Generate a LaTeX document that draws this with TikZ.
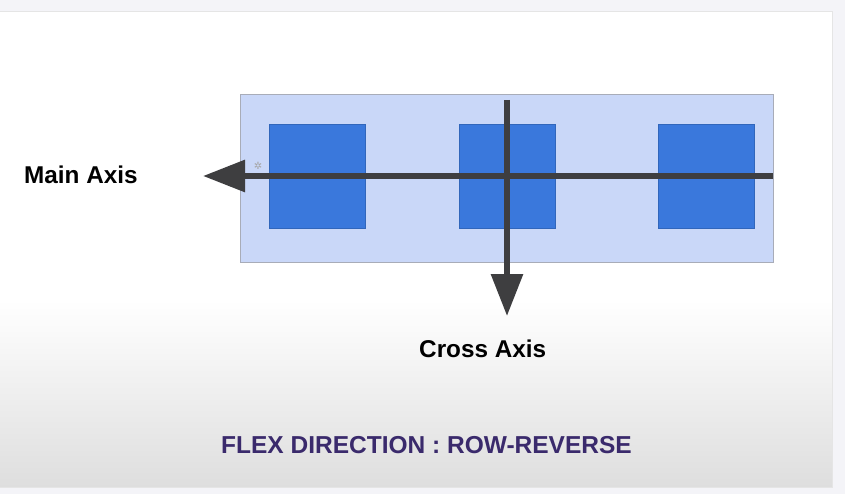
\documentclass[tikz,border=0pt]{standalone}
\usepackage{fontspec}
\setmainfont{Liberation Sans}
\newfontfamily\symfont{DejaVu Sans}
\usetikzlibrary{arrows.meta}
\definecolor{outerbg}{HTML}{F4F4F8}
\definecolor{slidebot}{HTML}{DEDEDE}
\definecolor{contfill}{HTML}{C9D7F8}
\definecolor{contborder}{HTML}{A8ACB8}
\definecolor{itemblue}{HTML}{3A78DC}
\definecolor{axisgray}{HTML}{3E3E40}
\definecolor{titlepurple}{HTML}{3A2A6C}
\tikzset{
  itembox/.style={fill=itemblue, draw=itemblue!85!black, line width=0.5pt, minimum width=96pt, minimum height=104pt, inner sep=0pt},
  axisline/.style={draw=axisgray, line width=6pt, -{Triangle[length=42pt, width=31pt]}},
  lbl/.style={font=\bfseries\fontsize{24.3}{27}\selectfont, inner sep=0pt, anchor=base west},
}
\begin{document}
\begin{tikzpicture}[x=1pt,y=-1pt]
\useasboundingbox (0,0) rectangle (845,494);
% background
\fill[outerbg] (0,0) rectangle (845,494);
\fill[white] (0,12) rectangle (832,300);
\shade[top color=white, bottom color=slidebot] (0,300) rectangle (832,487);
\draw[black!10, line width=1pt] (0,12) -- (832,12) -- (832,487) -- (0,487);
% container
\node[fill=contfill, draw=contborder, line width=1pt, minimum width=533pt, minimum height=167pt, inner sep=0pt] (cont) at (506.5,178.5) {};
% items
\node[itembox] (item1) at (317,176) {};
\node[itembox] (item2) at (507,176) {};
\node[itembox] (item3) at (706,176) {};
% small icon
\node[text=black!35, font=\symfont\fontsize{10}{10}\selectfont, inner sep=0pt] (icon) at (258,166) {✲};
% axes
\coordinate (hstart) at (773,176);
\coordinate (htip) at (203,176);
\coordinate (vstart) at (507,100);
\coordinate (vtip) at (507,316);
\draw[axisline] (hstart) -- (htip);
\draw[axisline] (vstart) -- (vtip);
% labels
\node[lbl] (mainlbl) at (24,184) {Main Axis};
\node[lbl] (crosslbl) at (419,357) {Cross Axis};
\node[lbl, text=titlepurple, font=\bfseries\fontsize{24.5}{27}\selectfont] (title) at (221,453) {FLEX DIRECTION : ROW-REVERSE};
\end{tikzpicture}
\end{document}
